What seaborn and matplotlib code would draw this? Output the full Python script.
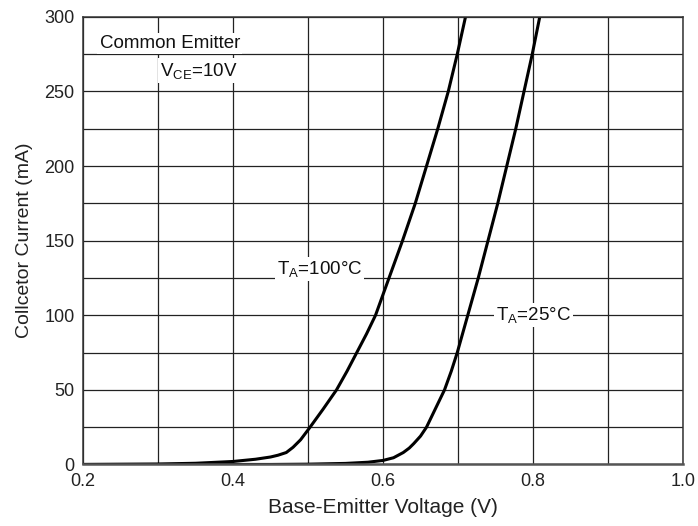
import numpy as np
import pandas as pd
import matplotlib
matplotlib.use("Agg")
import matplotlib.pyplot as plt
import seaborn as sns

# curves (Vbe in V, Ic in mA)
vbe_100 = [0.20, 0.30, 0.35, 0.40, 0.43, 0.45, 0.46, 0.471, 0.480, 0.490,
           0.502, 0.520, 0.538, 0.552, 0.565, 0.578, 0.590, 0.608, 0.626,
           0.643, 0.658, 0.673, 0.687, 0.699, 0.710]
ic_100 = [0.0, 0.3, 0.8, 2.0, 3.5, 5.0, 6.2, 8.0, 11.5, 16.5,
          24.5, 37, 50, 62.5, 75, 87.5, 100, 125, 150,
          175, 200, 225, 250, 275, 300]

vbe_25 = [0.20, 0.45, 0.50, 0.55, 0.58, 0.60, 0.614, 0.627, 0.635, 0.641, 0.650,
          0.658, 0.670, 0.682, 0.691, 0.699, 0.713, 0.727, 0.740, 0.753,
          0.765, 0.777, 0.788, 0.799, 0.809]
ic_25 = [0.0, 0.0, 0.2, 0.7, 1.5, 2.7, 4.5, 8.0, 11, 14, 19,
         25, 37.5, 50, 62.5, 75, 100, 125, 150, 175,
         200, 225, 250, 275, 300]

df = pd.concat([
    pd.DataFrame({"vbe": vbe_100, "ic": ic_100, "temp": "100C"}),
    pd.DataFrame({"vbe": vbe_25, "ic": ic_25, "temp": "25C"}),
])

sns.set_style("white")
plt.rcParams["font.family"] = ["Liberation Sans", "DejaVu Sans"]
plt.rcParams["mathtext.default"] = "regular"

fig = plt.figure(figsize=(6.98, 5.26), dpi=100)
ax = fig.add_axes([0.119, 0.117, 0.8595, 0.851])

sns.lineplot(data=df, x="vbe", y="ic", units="temp", estimator=None,
             color="black", linewidth=2.2, sort=False, ax=ax)

ax.set_xlim(0.2, 1.0)
ax.set_ylim(0, 300)
ax.set_xticks(np.arange(0.2, 1.01, 0.2))
ax.set_xticklabels(["0.2", "0.4", "0.6", "0.8", "1.0"])
ax.set_xticks(np.arange(0.2, 1.01, 0.1), minor=True)
ax.set_yticks(np.arange(0, 301, 50))
ax.set_yticks(np.arange(0, 301, 25), minor=True)
ax.grid(True, which="both", color="#222222", linewidth=0.9)
ax.tick_params(which="both", length=0, labelsize=13, colors="#222222")
ax.tick_params(axis="x", pad=6)
ax.tick_params(axis="y", pad=6)
for s in ax.spines.values():
    s.set_color("#333333")
    s.set_linewidth(1.1)
ax.spines["bottom"].set_linewidth(1.8)
ax.spines["bottom"].set_color("#555555")

ax.set_xlabel("Base-Emitter Voltage (V)", fontsize=15, color="#222222", labelpad=6)
ax.set_ylabel("Collcetor Current (mA)", fontsize=14, color="#222222", labelpad=8)

box = dict(facecolor="white", edgecolor="none", pad=1.5)
fs = 13.5
ax.text(0.222, 282, "Common Emitter", fontsize=fs, ha="left", va="center",
        bbox=box, color="#111111")
ax.text(0.406, 264, r"V$_{CE}$=10V", fontsize=fs, ha="right", va="center",
        bbox=box, color="#111111")
ax.text(0.515, 131, r"T$_{A}$=100°C", fontsize=fs, ha="center", va="center",
        bbox=box, color="#111111")
ax.text(0.801, 100, r"T$_{A}$=25°C", fontsize=fs, ha="center", va="center",
        bbox=box, color="#111111")

fig.savefig("out.png", dpi=100)
